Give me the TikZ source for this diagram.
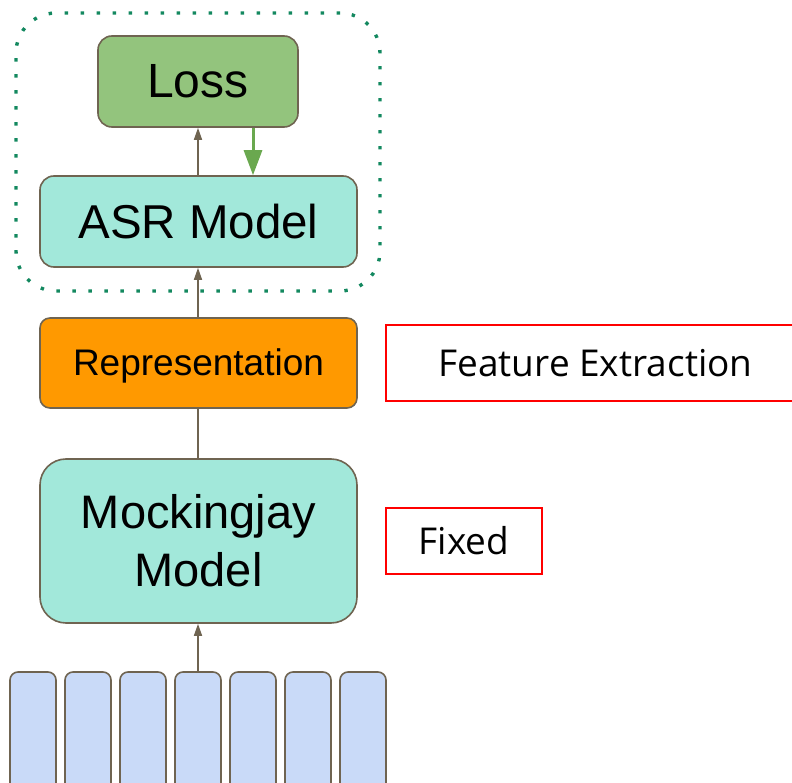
\documentclass[tikz,border=0pt]{standalone}
\usepackage{fontspec}
\setmainfont{Liberation Sans}
\newfontfamily\notefont{Open Sans}
\usetikzlibrary{arrows.meta}
\definecolor{edgebrown}{HTML}{6F6451}
\definecolor{lossgreen}{HTML}{93C47D}
\definecolor{modelteal}{HTML}{A2E8DA}
\definecolor{reporange}{HTML}{FF9900}
\definecolor{framebar}{HTML}{C9DAF8}
\definecolor{groupgreen}{HTML}{13885F}
\definecolor{gradgreen}{HTML}{6AA84F}
\tikzset{
  block/.style={draw=edgebrown, line width=1.6pt, rounded corners=14pt, inner sep=0pt},
  note/.style={draw=red, line width=1.6pt, inner sep=0pt, font=\notefont\fontsize{37}{44}\selectfont},
  flow/.style={draw=edgebrown, line width=1.5pt, -{Triangle[length=12pt,width=8pt]}},
  plain/.style={draw=edgebrown, line width=1.5pt},
  grad/.style={draw=gradgreen, line width=3pt, -{Triangle[length=25pt,width=18pt]}},
  group/.style={draw=groupgreen, line width=3.4pt, dash pattern=on 3.4pt off 12.6pt, rounded corners=40pt}
}
\begin{document}
\begin{tikzpicture}[x=1pt, y=-1pt]
\useasboundingbox (0,0) rectangle (792,783);

% training group
\node[group, minimum width=364pt, minimum height=278pt] (trainer) at (198,152) {};

% main stack
\node[block, fill=lossgreen, minimum width=200pt, minimum height=91pt,
      font=\fontsize{48}{58}\selectfont] (loss) at (198,81.5) {Loss};
\node[block, fill=modelteal, minimum width=317pt, minimum height=91pt,
      font=\fontsize{47.5}{58}\selectfont] (asr) at (198.5,221.5) {ASR Model};
\node[block, rounded corners=10pt, fill=reporange, minimum width=317pt, minimum height=90pt,
      font=\fontsize{37}{44}\selectfont] (rep) at (198.5,363) {\raisebox{-3pt}[\height][\depth]{Representation}};
\node[block, rounded corners=26pt, fill=modelteal, minimum width=317pt, minimum height=164pt,
      align=center, font=\fontsize{47}{58}\selectfont] (mock) at (198.5,541) {Mockingjay\\Model};

% input frames
\foreach \i in {0,...,6} {
  \node[block, rounded corners=8pt, fill=framebar, minimum width=46pt, minimum height=130pt]
    (frame\i) at ({33+55*\i},737) {};
}

% side notes
\node[note, minimum width=419pt, minimum height=76pt] (featnote) at (595.5,363) {Feature Extraction};
\node[note, minimum width=156pt, minimum height=66pt] (fixnote) at (464,541) {Fixed};

% connectors
\coordinate (gx) at (253,0);
\draw[flow] (frame3.north) -- (mock.south -| frame3.north);
\draw[plain] (mock.north -| frame3.north) -- (rep.south -| frame3.north);
\draw[flow] (rep.north -| frame3.north) -- (asr.south -| frame3.north);
\draw[flow] (asr.north -| frame3.north) -- (loss.south -| frame3.north);
\draw[grad] (loss.south -| gx) -- (asr.north -| gx);
\end{tikzpicture}
\end{document}
